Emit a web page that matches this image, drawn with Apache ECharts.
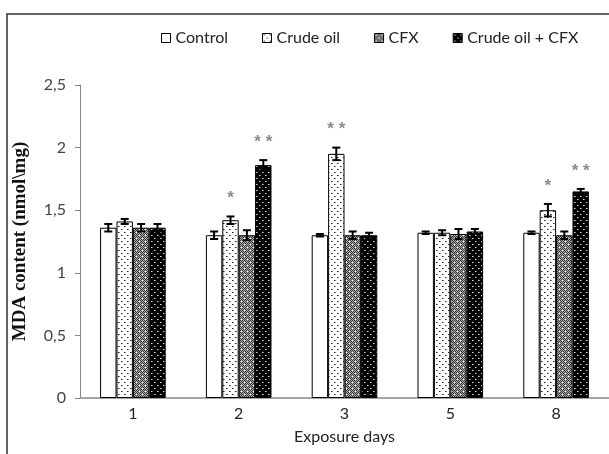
<!DOCTYPE html>
<html>
<head>
<meta charset="utf-8">
<script src="https://cdn.jsdelivr.net/npm/echarts@6/dist/echarts.min.js"></script>
<style>html,body{margin:0;padding:0;background:#fff;}#c{width:609px;height:454px;}</style>
</head>
<body>
<div id="c"></div>
<script>
var categories = ['1', '2', '3', '5', '8'];
var seriesNames = ['Control', 'Crude oil', 'CFX', 'Crude oil + CFX'];
var controlVals = [1.36, 1.30, 1.30, 1.32, 1.32];
var crudeVals   = [1.41, 1.42, 1.95, 1.32, 1.50];
var cfxVals     = [1.36, 1.30, 1.30, 1.31, 1.30];
var comboVals   = [1.36, 1.86, 1.30, 1.33, 1.65];
var controlErr = [0.03, 0.03, 0.01, 0.01, 0.01];
var crudeErr   = [0.02, 0.03, 0.05, 0.02, 0.05];
var cfxErr     = [0.03, 0.04, 0.03, 0.04, 0.03];
var comboErr   = [0.03, 0.04, 0.02, 0.02, 0.02];
var controlStars = ['', '', '', '', ''];
var crudeStars   = ['', '*', '* *', '', '*'];
var cfxStars     = ['', '', '', '', ''];
var comboStars   = ['', '* *', '', '', '* *'];
var yTicks = [0, 0.5, 1, 1.5, 2, 2.5];

function makeTile(kind) {
  var c = document.createElement('canvas');
  c.width = 6; c.height = 6;
  var g = c.getContext('2d');
  if (kind === 'control') {
    g.fillStyle = '#fff'; g.fillRect(0, 0, 6, 6);
  } else if (kind === 'crude') {
    g.fillStyle = '#fff'; g.fillRect(0, 0, 6, 6);
    g.fillStyle = '#222';
    g.fillRect(1, 1, 1, 1); g.fillRect(4, 4, 1, 1);
    g.fillStyle = '#888';
    g.fillRect(2, 1, 1, 1); g.fillRect(5, 4, 1, 1);
  } else if (kind === 'cfx') {
    for (var y = 0; y < 6; y++) for (var x = 0; x < 6; x++) {
      g.fillStyle = ((x + y) % 2 === 0) ? '#333' : '#b0b0b0';
      g.fillRect(x, y, 1, 1);
    }
    g.fillStyle = '#fff';
    g.fillRect(1, 1, 1, 1); g.fillRect(4, 4, 1, 1);
  } else {
    g.fillStyle = '#000'; g.fillRect(0, 0, 6, 6);
    g.fillStyle = '#ddd';
    g.fillRect(1, 1, 1, 1); g.fillRect(4, 4, 1, 1);
    g.fillStyle = '#777';
    g.fillRect(2, 1, 1, 1); g.fillRect(5, 4, 1, 1);
  }
  return { image: c, repeat: 'repeat' };
}
var fills = [makeTile('control'), makeTile('crude'), makeTile('cfx'), makeTile('combo')];
var allVals = [controlVals, crudeVals, cfxVals, comboVals];
var allErr = [controlErr, crudeErr, cfxErr, comboErr];
var allStars = [controlStars, crudeStars, cfxStars, comboStars];

var GAP = 0.38;
var series = [];
seriesNames.forEach(function (name, i) {
  series.push({
    name: name, type: 'bar', data: allVals[i],
    barGap: '0%', barCategoryGap: (GAP * 100) + '%',
    itemStyle: { color: fills[i], borderColor: '#000', borderWidth: 1 },
    emphasis: { disabled: true }
  });
});
seriesNames.forEach(function (name, i) {
  var d = allVals[i].map(function (v, k) { return [k, v, allErr[i][k], allStars[i][k]]; });
  series.push({
    type: 'custom', name: name + ' err', data: d, z: 10, silent: true,
    renderItem: function (params, api) {
      var k = api.value(0), v = api.value(1), e = api.value(2);
      var star = d[params.dataIndex][3];
      var band = api.size([1, 0])[0];
      var bw = band * (1 - GAP) / 4;
      var c = api.coord([k, v]);
      var x = c[0] + (i - 1.5) * bw;
      var yHi = api.coord([k, v + e])[1];
      var yLo = api.coord([k, v - e])[1];
      var cap = 4;
      var children = [
        { type: 'line', shape: { x1: x, y1: yHi, x2: x, y2: yLo }, style: { stroke: '#000', lineWidth: 2 } },
        { type: 'line', shape: { x1: x - cap, y1: yHi, x2: x + cap, y2: yHi }, style: { stroke: '#000', lineWidth: 2 } },
        { type: 'line', shape: { x1: x - cap, y1: yLo, x2: x + cap, y2: yLo }, style: { stroke: '#000', lineWidth: 2 } }
      ];
      if (star) {
        children.push({ type: 'text', style: { text: star, x: x, y: yHi - 18, align: 'center', verticalAlign: 'middle', fill: '#8a8a8a', font: 'bold 17px "Liberation Sans"' } });
      }
      return { type: 'group', children: children };
    }
  });
});

var chart = echarts.init(document.getElementById('c'));
chart.setOption({
  animation: false,
  backgroundColor: '#fff',
  textStyle: { fontFamily: 'Lato' },
  graphic: [{ type: 'rect', shape: { x: 7, y: 14, width: 800, height: 700 }, style: { fill: 'none', stroke: '#333', lineWidth: 1.5 }, z: 100 }],
  legend: {
    data: seriesNames, left: 156, top: 25, itemWidth: 9, itemHeight: 9, itemGap: 34,
    icon: 'rect',
    textStyle: { fontFamily: 'Lato', fontSize: 16, color: '#222' },
    itemStyle: { borderColor: '#000', borderWidth: 1 }
  },
  grid: { left: 80, right: -10, top: 85, bottom: 56, containLabel: false },
  xAxis: {
    type: 'category', data: categories,
    name: 'Exposure days', nameLocation: 'middle', nameGap: 31,
    nameTextStyle: { fontFamily: 'Lato', fontSize: 16, color: '#222' },
    axisLine: { lineStyle: { color: '#888', width: 1.5 } },
    axisTick: { show: false },
    axisLabel: { fontFamily: 'Lato', fontSize: 16, color: '#222', margin: 8 }
  },
  yAxis: {
    type: 'value', min: yTicks[0], max: yTicks[yTicks.length - 1], interval: 0.5,
    name: 'MDA content (nmol\\mg)', nameLocation: 'middle', nameGap: 50, nameRotate: 90,
    nameTextStyle: { fontFamily: 'Liberation Serif', fontWeight: 'bold', fontSize: 19, color: '#111' },
    axisLine: { show: true, lineStyle: { color: '#888', width: 1 } },
    axisTick: { show: true, length: 5, lineStyle: { color: '#888' } },
    splitLine: { show: false },
    axisLabel: { fontFamily: 'Lato', fontSize: 16, color: '#444', margin: 14,
      formatter: function (v) { return String(v).replace('.', ','); } }
  },
  series: series
});
</script>
</body>
</html>
